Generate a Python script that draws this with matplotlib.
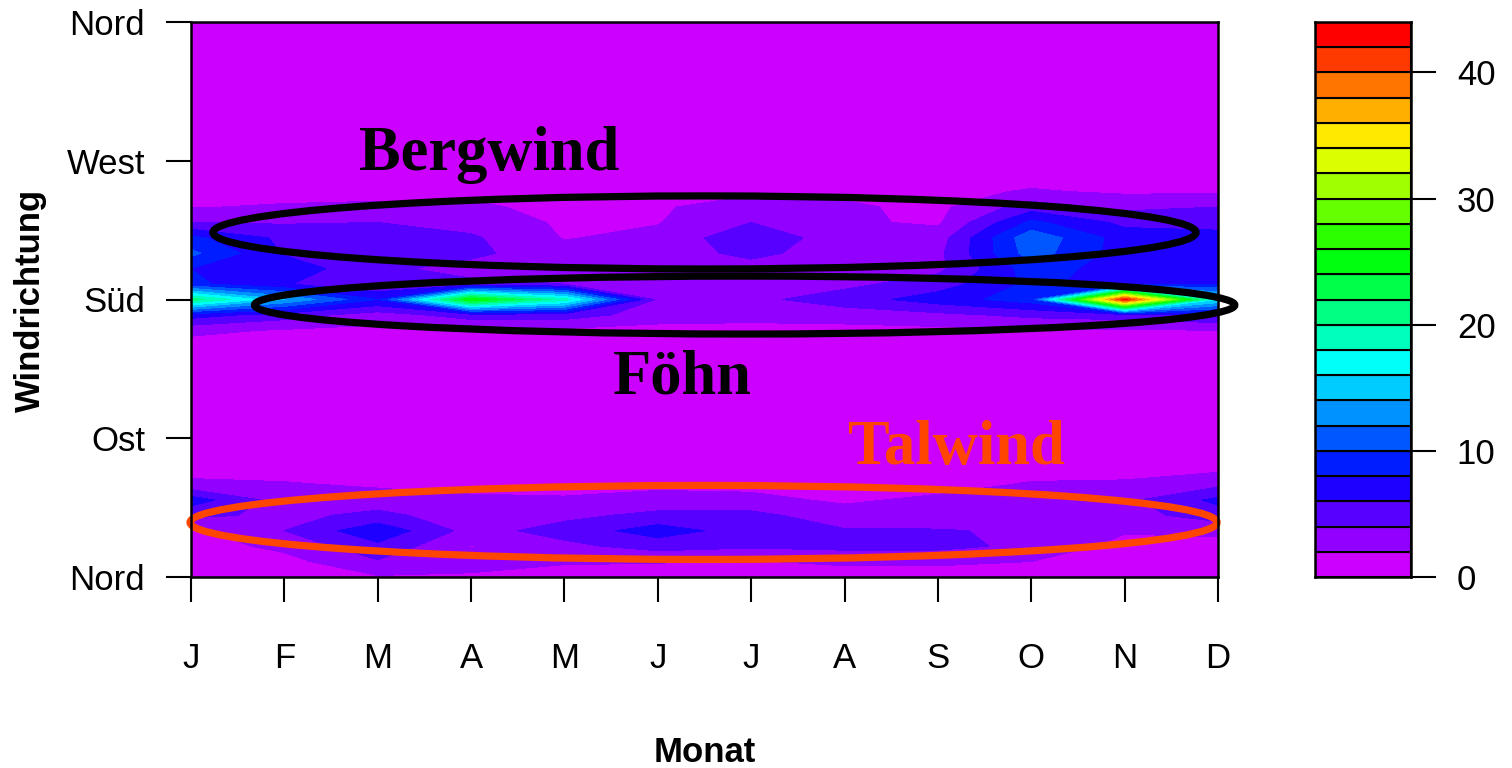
import numpy as np
import matplotlib
matplotlib.use("Agg")
import matplotlib.pyplot as plt
import matplotlib.colors as mcolors
from matplotlib.patches import Ellipse

plt.rcParams['font.family'] = ['Liberation Sans', 'DejaVu Sans']

# Monate (x) und Windrichtung in Grad (y)
monate = np.arange(1, 13)
monat_labels = ["J", "F", "M", "A", "M", "J", "J", "A", "S", "O", "N", "D"]
richtung = np.arange(0, 361, 10)
richtung_ticks = [0, 90, 180, 270, 360]
richtung_labels = ["Nord", "Ost", "Süd", "West", "Nord"]

# Häufigkeiten je Richtung, Spalten = Monate J..D
# Talwind-Sektor 0-70 Grad
tal = [
    [0.8, 0.9, 1.8, 1.7, 1.2, 1.2, 1.1, 1.2, 1.2, 1.1, 0.9, 0.8],   # 0
    [1.0, 1.3, 3.8, 2.8, 2.2, 2.1, 1.9, 2.3, 2.3, 2.0, 1.0, 1.0],   # 10
    [1.1, 2.5, 5.5, 1.9, 3.5, 4.8, 4.3, 4.6, 4.6, 3.5, 1.3, 1.2],   # 20
    [1.5, 4.0, 7.5, 3.2, 4.8, 7.0, 5.0, 4.2, 4.1, 3.8, 2.2, 2.5],   # 30
    [4.5, 3.5, 4.5, 3.0, 3.5, 4.5, 4.6, 2.8, 3.2, 3.2, 3.2, 5.0],   # 40
    [7.0, 3.0, 3.0, 2.3, 2.2, 2.8, 2.5, 1.7, 2.4, 3.0, 3.5, 6.5],   # 50
    [2.5, 2.2, 1.7, 1.5, 1.4, 1.5, 1.5, 1.3, 1.3, 2.2, 2.3, 3.5],   # 60
    [1.2, 1.1, 1.0, 1.0, 1.0, 1.0, 1.0, 1.0, 1.0, 1.2, 1.3, 1.6],   # 70
]
# Ost bis Südost 80-150 Grad
ost = [
    [1.0, 0.9, 0.8, 0.8, 0.8, 0.8, 0.8, 0.8, 0.8, 0.9, 1.0, 1.1],   # 80
    [0.8, 0.8, 0.7, 0.7, 0.7, 0.7, 0.7, 0.7, 0.7, 0.8, 0.8, 0.8],   # 90
    [0.7, 0.7, 0.6, 0.6, 0.6, 0.6, 0.6, 0.6, 0.6, 0.7, 0.7, 0.7],   # 100
    [0.7, 0.7, 0.6, 0.6, 0.6, 0.6, 0.6, 0.6, 0.6, 0.7, 0.7, 0.7],   # 110
    [0.7, 0.7, 0.6, 0.6, 0.6, 0.6, 0.6, 0.6, 0.6, 0.7, 0.7, 0.7],   # 120
    [0.8, 0.7, 0.7, 0.7, 0.7, 0.6, 0.6, 0.6, 0.7, 0.7, 0.8, 0.8],   # 130
    [0.9, 0.8, 0.8, 0.8, 0.8, 0.7, 0.7, 0.7, 0.8, 0.8, 0.9, 0.9],   # 140
    [1.2, 1.0, 1.0, 1.0, 1.0, 0.9, 0.9, 0.9, 1.0, 1.0, 1.1, 1.2],   # 150
]
# Süd (Föhn) und Südwest (Bergwind) 160-260 Grad
sued = [
    [2.5, 1.8, 1.5, 1.6, 1.6, 1.3, 1.2, 1.3, 1.5, 1.8, 1.8, 2.0],   # 160
    [7.0, 5.0, 3.0, 5.0, 5.0, 3.0, 2.8, 3.0, 3.5, 4.5, 5.0, 6.0],   # 170
    [21.0, 14.0, 8.0, 26.0, 19.0, 3.5, 3.5, 5.0, 7.0, 9.0, 43.0, 16.0],  # 180
    [8.5, 6.2, 4.0, 4.5, 4.0, 3.0, 3.0, 3.5, 5.0, 8.5, 7.0, 8.0],   # 190
    [8.0, 7.2, 4.5, 3.2, 3.0, 3.0, 3.2, 3.0, 3.5, 9.0, 7.0, 7.5],   # 200
    [10.5, 5.8, 5.0, 4.5, 2.6, 3.0, 4.5, 3.0, 3.5, 11.0, 7.0, 7.0],  # 210
    [8.5, 5.5, 5.0, 4.3, 1.9, 2.5, 5.5, 2.8, 3.0, 11.5, 7.0, 6.5],  # 220
    [4.0, 3.8, 4.0, 3.2, 1.7, 1.9, 4.0, 2.3, 1.7, 8.5, 5.5, 5.5],   # 230
    [1.9, 2.2, 2.3, 2.3, 1.5, 1.8, 2.8, 2.3, 1.5, 5.0, 3.5, 4.0],   # 240
    [1.2, 1.3, 1.5, 1.6, 1.3, 1.5, 1.7, 1.6, 1.4, 2.2, 1.7, 1.7],   # 250
    [1.0, 1.0, 1.0, 1.0, 1.1, 1.1, 1.2, 1.1, 1.0, 1.2, 1.1, 1.1],   # 260
]
# West bis Nord 270-360 Grad
nord = [
    [0.9, 0.9, 0.9, 0.9, 0.9, 0.9, 1.0, 0.9, 0.9, 1.0, 1.0, 1.0],   # 270
    [0.8, 0.8, 0.8, 0.8, 0.8, 0.8, 0.8, 0.8, 0.8, 0.8, 0.8, 0.8],   # 280
    [0.7, 0.7, 0.7, 0.7, 0.7, 0.7, 0.7, 0.7, 0.7, 0.7, 0.7, 0.7],   # 290
    [0.6, 0.6, 0.6, 0.6, 0.6, 0.6, 0.6, 0.6, 0.6, 0.6, 0.6, 0.6],   # 300
    [0.6, 0.6, 0.6, 0.6, 0.6, 0.6, 0.6, 0.6, 0.6, 0.6, 0.6, 0.6],   # 310
    [0.6, 0.6, 0.6, 0.6, 0.6, 0.6, 0.6, 0.6, 0.6, 0.6, 0.6, 0.6],   # 320
    [0.6, 0.6, 0.6, 0.6, 0.6, 0.6, 0.6, 0.6, 0.6, 0.6, 0.6, 0.6],   # 330
    [0.7, 0.7, 0.7, 0.7, 0.7, 0.7, 0.7, 0.7, 0.7, 0.7, 0.7, 0.7],   # 340
    [0.7, 0.8, 0.8, 0.8, 0.8, 0.8, 0.8, 0.8, 0.8, 0.8, 0.7, 0.7],   # 350
    [0.8, 0.9, 1.6, 1.7, 1.2, 1.2, 1.1, 1.2, 1.2, 1.1, 0.9, 0.8],   # 360
]

stufen = np.arange(0, 46, 2)
farben = [mcolors.hsv_to_rgb((h, 1, 1)) for h in np.linspace(0.8, 0, len(stufen) - 1)]

z = np.array(tal + ost + sued + nord)

fig = plt.figure(figsize=(15.12, 7.68), dpi=100)
ax = fig.add_axes([191 / 1512, 1 - 577 / 768, 1027 / 1512, 555 / 768])
cax = fig.add_axes([1315 / 1512, 1 - 577 / 768, 96 / 1512, 555 / 768])

ax.contourf(monate, richtung, z, levels=stufen, colors=farben)
ax.set_xlim(1, 12)
ax.set_ylim(0, 360)
ax.set_xticks(monate)
ax.set_xticklabels(monat_labels)
ax.set_yticks(richtung_ticks)
ax.set_yticklabels(richtung_labels)
ax.tick_params(axis='both', labelsize=25, length=18, width=1.5, direction='out')
ax.tick_params(axis='x', pad=29)
ax.tick_params(axis='y', pad=15)
for s in ax.spines.values():
    s.set_linewidth(1.8)

# Markierungen der Windsysteme
ax.add_patch(Ellipse((6.50, 223.5), 10.53, 47.4, fill=False, ec='black', lw=5.2, clip_on=False))
ax.add_patch(Ellipse((6.93, 176.4), 10.50, 37.6, fill=False, ec='black', lw=5.2, clip_on=False))
ax.add_patch(Ellipse((6.49, 35.4), 11.0, 48.0, fill=False, ec='#ff4500', lw=5.2, clip_on=False))

serif = ['Liberation Serif', 'DejaVu Serif']
ax.text(4.19, 264, "Bergwind", family=serif, weight='bold', fontsize=45, ha='center', va='baseline')
ax.text(6.26, 119, "Föhn", family=serif, weight='bold', fontsize=45, ha='center', va='baseline')
ax.text(9.20, 73, "Talwind", family=serif, weight='bold', fontsize=45, ha='center', va='baseline',
        color='#ff4500')

fig.text(30 / 1512, 1 - 300 / 768, "Windrichtung", rotation=90, ha='center', va='center',
         fontsize=25, weight='bold')
fig.text(705 / 1512, 1 - 752 / 768, "Monat", ha='center', va='center', fontsize=25, weight='bold')

# Farbskala
cax.bar(0.5, 2, width=1, bottom=stufen[:-1], color=farben, edgecolor='black', linewidth=1.5)
cax.set_xlim(0, 1)
cax.set_ylim(0, 44)
cax.set_xticks([])
cax.yaxis.tick_right()
cax.set_yticks([0, 10, 20, 30, 40])
cax.tick_params(axis='y', labelsize=25, length=18, width=1.5, pad=15)
for s in cax.spines.values():
    s.set_linewidth(1.8)

fig.savefig("out.png", dpi=100)
